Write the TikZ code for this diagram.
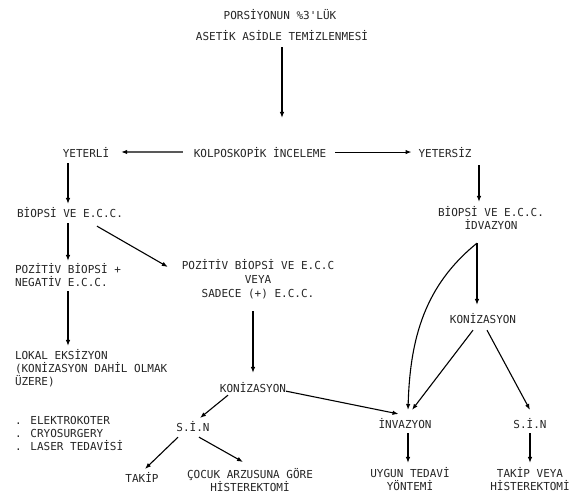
\documentclass[tikz,border=0pt]{standalone}
\usepackage{fontspec}
\newfontfamily\tw{DejaVu Sans Mono}
\usetikzlibrary{arrows.meta,calc}
\begin{document}
\begin{tikzpicture}[x=1pt,y=-1pt,
  txt/.style={font=\tw\fontsize{11}{13}\selectfont, text=black!85, inner sep=0pt, outer sep=0pt, anchor=base},
  mtxt/.style={txt, align=center},
  ltxt/.style={txt, align=left, anchor=base west},
  arr/.style={-{Latex[length=6pt,width=4.5pt]}, line width=1.1pt}]
\useasboundingbox[fill=white] (0,0) rectangle (577,493);
% nodes (multi-line nodes: base = baseline of last line)
\node[txt] (title1) at (280,19) {PORSİYONUN \%3'LÜK};
\node[txt] (title2) at (282,40) {ASETİK ASİDLE TEMİZLENMESİ};
\node[txt] (kolp) at (260,157) {KOLPOSKOPİK İNCELEME};
\node[txt] (yeterli) at (86,157) {YETERLİ};
\node[txt] (yetersiz) at (445,157) {YETERSİZ};
\node[txt] (biopL) at (70,217) {BİOPSİ VE E.C.C.};
\node[mtxt] (biopR) at (491,229) {BİOPSİ VE E.C.C.\\İDVAZYON};
\node[ltxt] (pozneg) at (15,286) {POZİTİV BİOPSİ +\\NEGATİV E.C.C.};
\node[mtxt, font=\tw\fontsize{11}{14}\selectfont] (pozveya) at (258,297) {POZİTİV BİOPSİ VE E.C.C\\VEYA\\SADECE (+) E.C.C.};
\node[ltxt] (lokal) at (15,385) {LOKAL EKSİZYON\\(KONİZASYON DAHİL OLMAK\\ÜZERE)};
\node[ltxt] (bullets) at (15,450) {. ELEKTROKOTER\\. CRYOSURGERY\\. LASER TEDAVİSİ};
\node[txt] (konizM) at (253,392) {KONİZASYON};
\node[txt] (konizR) at (483,323) {KONİZASYON};
\node[txt] (invaz) at (405,428) {İNVAZYON};
\node[txt] (sinL) at (193,431) {S.İ.N};
\node[txt] (sinR) at (530,428) {S.İ.N};
\node[txt] (takip) at (142,482) {TAKİP};
\node[mtxt] (cocuk) at (250,491) {ÇOCUK ARZUSUNA GÖRE\\HİSTEREKTOMİ};
\node[mtxt] (uygun) at (410,490) {UYGUN TEDAVİ\\YÖNTEMİ};
\node[mtxt] (takipveya) at (530,490) {TAKİP VEYA\\HİSTEREKTOMİ};
% connectors
\draw[arr, shorten <=7pt, shorten >=29pt] (title2.south) -- (title2.south |- kolp.north);
\draw[arr, shorten <=11pt, shorten >=12pt] (kolp.west) -- (yeterli.east);
\draw[arr, shorten <=9pt, shorten >=7pt] (kolp.east) -- (yetersiz.west);
\coordinate (lx) at ($(biopL.south)+(-2,0)$);
\coordinate (rx) at ($(biopR.north)+(-12,0)$);
\draw[arr, shorten <=6pt, shorten >=3pt] (lx |- yeterli.south) -- (lx |- biopL.north);
\draw[arr, shorten <=8pt, shorten >=4pt] (rx |- yetersiz.south) -- (rx);
\draw[arr, shorten <=6pt, shorten >=2pt] (lx |- biopL.south) -- (lx |- pozneg.north);
\draw[arr] ($(biopL.south east)+(-26,9)$) -- ($(pozveya.north west)+(-14,8)$);
\draw[arr, shorten <=5pt, shorten >=3pt] (lx |- pozneg.south) -- (lx |- lokal.north);
\draw[arr, shorten <=13pt, shorten >=9pt] (konizM.north |- pozveya.south) -- (konizM.north);
\draw[arr] ($(konizM.south)+(-25,3)$) -- ($(sinL.north)+(7,-3)$);
\draw[arr] ($(konizM.south east)+(0,-1)$) -- ($(invaz.north west)+(20,-4)$);
\draw[arr] ($(sinL.south)+(-15,6)$) -- ($(takip.north)+(3,-3)$);
\draw[arr] ($(sinL.south)+(6,6)$) -- ($(cocuk.north)+(-7,-6)$);
\draw[arr, shorten <=5pt, shorten >=4pt] ($(invaz.south)+(3,0)$) -- ($(invaz.south |- uygun.north)+(3,0)$);
\draw[arr, shorten <=5pt, shorten >=4pt] (sinR.south) -- (sinR.south |- takipveya.north);
\coordinate (rb) at ($(biopR.south)+(-14,14)$);
\draw[arr] (rb) -- ($(konizR.north)+(-6,-8)$);
\draw[arr] (rb) .. controls ($(rb)+(-52,42)$) and ($(invaz.north)+(5,-80)$) .. ($(invaz.north)+(3,-8)$);
\draw[arr] ($(konizR.south)+(-10,7)$) -- ($(invaz.north)+(7,-8)$);
\draw[arr] ($(konizR.south)+(4,7)$) -- ($(sinR.north)+(0,-8)$);
\end{tikzpicture}
\end{document}
